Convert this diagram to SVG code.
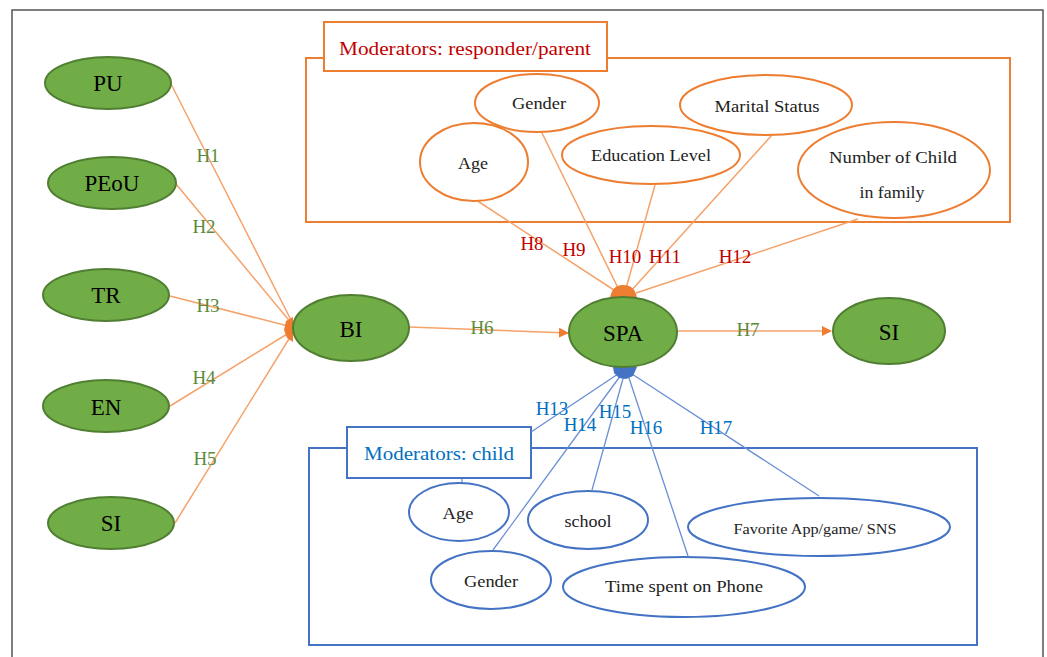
<svg xmlns="http://www.w3.org/2000/svg" width="1047" height="657" viewBox="0 0 1047 657">
<style>
.g{fill:#70AD47;stroke:#507E32;stroke-width:2}
.o{fill:#fff;stroke:#ED7D31;stroke-width:2}
.b{fill:#fff;stroke:#4472C4;stroke-width:2}
.lo{stroke:#F5A26A;stroke-width:1.5;fill:none}
.lb{stroke:#6A8FD6;stroke-width:1.3;fill:none}
text{font-family:"Liberation Serif","DejaVu Serif",serif;text-anchor:middle}
.nt{font-size:23px;fill:#000}
.st{font-size:16px;fill:#222}
.hg{font-size:19px;fill:#5A8A3A}
.hr{font-size:19px;fill:#C00000}
.hb{font-size:19px;fill:#0070C0}
</style>
<defs>
<marker id="ao" markerWidth="10" markerHeight="10" refX="9" refY="5" orient="auto" markerUnits="userSpaceOnUse"><path d="M0,0 L10,5 L0,10 Z" fill="#ED7D31"/></marker>
</defs>
<rect x="12" y="10" width="1031" height="660" fill="#fff" stroke="#555" stroke-width="1.5"/>

<g id="moderators-parent-box">
<rect x="306" y="58" width="704" height="164" fill="none" stroke="#ED7D31" stroke-width="2"/>
<rect x="324" y="22" width="283" height="49" fill="#fff" stroke="#ED7D31" stroke-width="2"/>
<text x="465" y="55" style="font-size:19px;fill:#C00000" textLength="252" lengthAdjust="spacingAndGlyphs">Moderators: responder/parent</text>
</g>
<g id="moderators-child-box">
<rect x="309" y="448" width="668" height="197" fill="none" stroke="#4472C4" stroke-width="2"/>
<rect x="347" y="427" width="184" height="51" fill="#fff" stroke="#4472C4" stroke-width="2"/>
<text x="439" y="460" style="font-size:18px;fill:#0070C0" textLength="150" lengthAdjust="spacingAndGlyphs">Moderators: child</text>
</g>

<g id="connectors">
<line class="lo" x1="171" y1="84" x2="292" y2="322"/>
<line class="lo" x1="176" y1="184" x2="292" y2="324"/>
<line class="lo" x1="170" y1="296" x2="292" y2="327"/>
<line class="lo" x1="170" y1="406" x2="292" y2="331"/>
<line class="lo" x1="175" y1="523" x2="292" y2="334"/>
<path d="M293,317 L286,321 L284,330 L287,338 L293,342 Z" fill="#ED7D31"/>
<line class="lo" x1="409" y1="327" x2="568" y2="333" marker-end="url(#ao)"/>
<line class="lo" x1="677" y1="331" x2="831" y2="331" marker-end="url(#ao)"/>
<line class="lo" x1="476" y1="200" x2="617" y2="292"/>
<line class="lo" x1="541" y1="131" x2="620" y2="292"/>
<line class="lo" x1="655" y1="185" x2="625" y2="292"/>
<line class="lo" x1="772" y1="135" x2="630" y2="292"/>
<line class="lo" x1="858" y1="219" x2="636" y2="293"/>
<path d="M610,298 Q612,285 623,285 Q635,285 637,298 Z" fill="#ED7D31"/>
<line class="lb" x1="531" y1="432" x2="618" y2="374"/>
<line class="lb" x1="493" y1="550" x2="621" y2="375"/>
<line class="lb" x1="592" y1="490" x2="624" y2="375"/>
<line class="lb" x1="688" y1="556" x2="628" y2="375"/>
<line class="lb" x1="819" y1="496" x2="632" y2="374"/>
<path d="M613,367 L637,367 L633,376 L626,379 L619,378 L614,373 Z" fill="#4472C4"/>
<line stroke="#4472C4" stroke-width="1" x1="462" y1="478" x2="462" y2="483"/>
</g>

<g id="labels">
<text class="hg" x="208" y="162">H1</text>
<text class="hg" x="204" y="233">H2</text>
<text class="hg" x="208" y="312">H3</text>
<text class="hg" x="204" y="384">H4</text>
<text class="hg" x="205" y="465">H5</text>
<text class="hg" x="482" y="334">H6</text>
<text class="hg" x="748" y="336">H7</text>
<text class="hr" x="532" y="250">H8</text>
<text class="hr" x="574" y="256">H9</text>
<text class="hr" x="625" y="263">H10</text>
<text class="hr" x="665" y="263">H11</text>
<text class="hr" x="735" y="263">H12</text>
<text class="hb" x="552" y="415">H13</text>
<text class="hb" x="580" y="431">H14</text>
<text class="hb" x="615" y="418">H15</text>
<text class="hb" x="646" y="434">H16</text>
<text class="hb" x="716" y="434">H17</text>
</g>

<g id="node-PU"><ellipse class="g" cx="108" cy="83" rx="63" ry="26"/><text class="nt" x="108" y="91">PU</text></g>
<g id="node-PEoU"><ellipse class="g" cx="112" cy="183" rx="64" ry="26"/><text class="nt" x="112" y="191">PEoU</text></g>
<g id="node-TR"><ellipse class="g" cx="106" cy="295" rx="63" ry="26"/><text class="nt" x="106" y="303">TR</text></g>
<g id="node-EN"><ellipse class="g" cx="106" cy="406" rx="63" ry="26"/><text class="nt" x="106" y="415">EN</text></g>
<g id="node-SI-left"><ellipse class="g" cx="111" cy="523" rx="63" ry="26"/><text class="nt" x="111" y="531">SI</text></g>
<g id="node-BI"><ellipse class="g" cx="351" cy="328" rx="58" ry="33"/><text class="nt" x="351" y="337">BI</text></g>
<g id="node-SPA"><ellipse class="g" cx="623" cy="332" rx="54" ry="35"/><text class="nt" x="623" y="341">SPA</text></g>
<g id="node-SI-right"><ellipse class="g" cx="889" cy="331" rx="56" ry="33"/><text class="nt" x="889" y="340">SI</text></g>

<g id="node-p-gender"><ellipse class="o" cx="537" cy="103" rx="62" ry="29"/><text class="st" x="539" y="109" textLength="54" lengthAdjust="spacingAndGlyphs">Gender</text></g>
<g id="node-p-marital"><ellipse class="o" cx="766" cy="105" rx="86" ry="30"/><text class="st" x="767" y="112" textLength="105" lengthAdjust="spacingAndGlyphs">Marital Status</text></g>
<g id="node-p-age"><ellipse class="o" cx="474" cy="162" rx="54" ry="39"/><text class="st" x="473" y="169" textLength="30" lengthAdjust="spacingAndGlyphs">Age</text></g>
<g id="node-p-education"><ellipse class="o" cx="651" cy="155" rx="89" ry="29"/><text class="st" x="651" y="161" textLength="120" lengthAdjust="spacingAndGlyphs">Education Level</text></g>
<g id="node-p-children"><ellipse class="o" cx="894" cy="170" rx="96" ry="48"/><text class="st" x="893" y="163" textLength="128" lengthAdjust="spacingAndGlyphs">Number of Child</text><text class="st" x="892" y="198" textLength="65" lengthAdjust="spacingAndGlyphs">in family</text></g>

<g id="node-c-age"><ellipse class="b" cx="459" cy="512" rx="50" ry="29"/><text class="st" x="458" y="519" textLength="31" lengthAdjust="spacingAndGlyphs">Age</text></g>
<g id="node-c-school"><ellipse class="b" cx="588" cy="520" rx="60" ry="29"/><text class="st" x="588" y="527" textLength="47" lengthAdjust="spacingAndGlyphs">school</text></g>
<g id="node-c-gender"><ellipse class="b" cx="491" cy="580" rx="60" ry="29"/><text class="st" x="491" y="587" textLength="54" lengthAdjust="spacingAndGlyphs">Gender</text></g>
<g id="node-c-time"><ellipse class="b" cx="684" cy="587" rx="121" ry="30"/><text class="st" x="684" y="592" textLength="158" lengthAdjust="spacingAndGlyphs">Time spent on Phone</text></g>
<g id="node-c-favorite"><ellipse class="b" cx="819" cy="527" rx="131" ry="29"/><text class="st" x="815" y="534" style="font-size:15px" textLength="163" lengthAdjust="spacingAndGlyphs">Favorite App/game/ SNS</text></g>
</svg>
